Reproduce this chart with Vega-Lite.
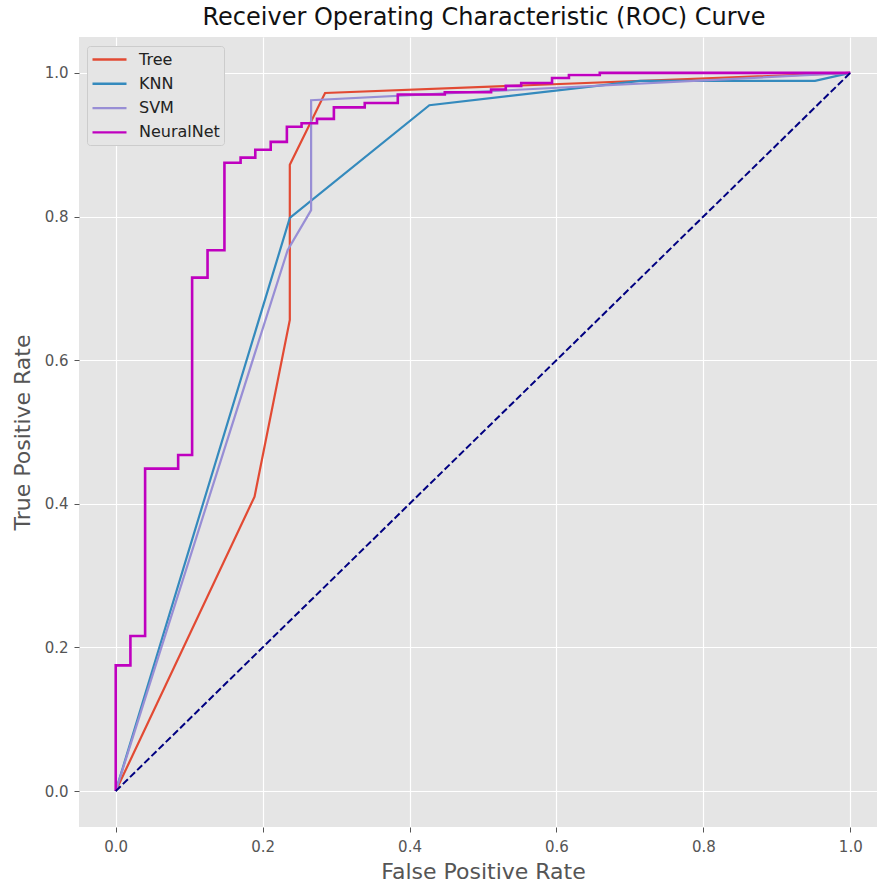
{
  "$schema": "https://vega.github.io/schema/vega-lite/v6.json",
  "autosize": "none",
  "width": 798,
  "height": 790,
  "padding": {"left": 79, "top": 37, "right": 0, "bottom": 56},
  "background": "white",
  "title": {"text": "Receiver Operating Characteristic (ROC) Curve", "fontSize": 24, "font": "DejaVu Sans", "fontWeight": "normal", "color": "#111111", "anchor": "middle", "offset": 7, "frame": "group", "dx": 6},
  "datasets": {
    "roc": [
      {"series": "Tree", "fpr": 0, "tpr": 0},
      {"series": "Tree", "fpr": 0.189, "tpr": 0.41},
      {"series": "Tree", "fpr": 0.237, "tpr": 0.656},
      {"series": "Tree", "fpr": 0.237, "tpr": 0.872},
      {"series": "Tree", "fpr": 0.285, "tpr": 0.972},
      {"series": "Tree", "fpr": 1, "tpr": 1},
      {"series": "KNN", "fpr": 0, "tpr": 0},
      {"series": "KNN", "fpr": 0.237, "tpr": 0.798},
      {"series": "KNN", "fpr": 0.427, "tpr": 0.955},
      {"series": "KNN", "fpr": 0.714, "tpr": 0.989},
      {"series": "KNN", "fpr": 0.952, "tpr": 0.989},
      {"series": "KNN", "fpr": 1, "tpr": 1},
      {"series": "SVM", "fpr": 0, "tpr": 0},
      {"series": "SVM", "fpr": 0.234, "tpr": 0.753},
      {"series": "SVM", "fpr": 0.266, "tpr": 0.809},
      {"series": "SVM", "fpr": 0.266, "tpr": 0.962},
      {"series": "SVM", "fpr": 1, "tpr": 1},
      {"series": "NeuralNet", "fpr": 0, "tpr": 0},
      {"series": "NeuralNet", "fpr": 0, "tpr": 0.175},
      {"series": "NeuralNet", "fpr": 0.02, "tpr": 0.175},
      {"series": "NeuralNet", "fpr": 0.02, "tpr": 0.216},
      {"series": "NeuralNet", "fpr": 0.04, "tpr": 0.216},
      {"series": "NeuralNet", "fpr": 0.04, "tpr": 0.449},
      {"series": "NeuralNet", "fpr": 0.085, "tpr": 0.449},
      {"series": "NeuralNet", "fpr": 0.085, "tpr": 0.468},
      {"series": "NeuralNet", "fpr": 0.104, "tpr": 0.468},
      {"series": "NeuralNet", "fpr": 0.104, "tpr": 0.715},
      {"series": "NeuralNet", "fpr": 0.125, "tpr": 0.715},
      {"series": "NeuralNet", "fpr": 0.125, "tpr": 0.753},
      {"series": "NeuralNet", "fpr": 0.148, "tpr": 0.753},
      {"series": "NeuralNet", "fpr": 0.148, "tpr": 0.875},
      {"series": "NeuralNet", "fpr": 0.17, "tpr": 0.875},
      {"series": "NeuralNet", "fpr": 0.17, "tpr": 0.882},
      {"series": "NeuralNet", "fpr": 0.19, "tpr": 0.882},
      {"series": "NeuralNet", "fpr": 0.19, "tpr": 0.893},
      {"series": "NeuralNet", "fpr": 0.211, "tpr": 0.893},
      {"series": "NeuralNet", "fpr": 0.211, "tpr": 0.904},
      {"series": "NeuralNet", "fpr": 0.233, "tpr": 0.904},
      {"series": "NeuralNet", "fpr": 0.233, "tpr": 0.925},
      {"series": "NeuralNet", "fpr": 0.253, "tpr": 0.925},
      {"series": "NeuralNet", "fpr": 0.253, "tpr": 0.93},
      {"series": "NeuralNet", "fpr": 0.274, "tpr": 0.93},
      {"series": "NeuralNet", "fpr": 0.274, "tpr": 0.936},
      {"series": "NeuralNet", "fpr": 0.297, "tpr": 0.936},
      {"series": "NeuralNet", "fpr": 0.297, "tpr": 0.952},
      {"series": "NeuralNet", "fpr": 0.339, "tpr": 0.952},
      {"series": "NeuralNet", "fpr": 0.339, "tpr": 0.958},
      {"series": "NeuralNet", "fpr": 0.384, "tpr": 0.958},
      {"series": "NeuralNet", "fpr": 0.384, "tpr": 0.97},
      {"series": "NeuralNet", "fpr": 0.448, "tpr": 0.97},
      {"series": "NeuralNet", "fpr": 0.448, "tpr": 0.973},
      {"series": "NeuralNet", "fpr": 0.511, "tpr": 0.973},
      {"series": "NeuralNet", "fpr": 0.511, "tpr": 0.977},
      {"series": "NeuralNet", "fpr": 0.531, "tpr": 0.977},
      {"series": "NeuralNet", "fpr": 0.531, "tpr": 0.982},
      {"series": "NeuralNet", "fpr": 0.552, "tpr": 0.982},
      {"series": "NeuralNet", "fpr": 0.552, "tpr": 0.986},
      {"series": "NeuralNet", "fpr": 0.594, "tpr": 0.986},
      {"series": "NeuralNet", "fpr": 0.594, "tpr": 0.993},
      {"series": "NeuralNet", "fpr": 0.617, "tpr": 0.993},
      {"series": "NeuralNet", "fpr": 0.617, "tpr": 0.997},
      {"series": "NeuralNet", "fpr": 0.659, "tpr": 0.997},
      {"series": "NeuralNet", "fpr": 0.659, "tpr": 1},
      {"series": "NeuralNet", "fpr": 1, "tpr": 1}
    ],
    "diag": [
      {"fpr": 0, "tpr": 0},
      {"fpr": 1, "tpr": 1}
    ]
  },
  "encoding": {
    "x": {"field": "fpr", "type": "quantitative", "scale": {"domain": [-0.05, 1.0364], "nice": false, "zero": false},
      "axis": {"values": [0, 0.2, 0.4, 0.6, 0.8, 1.0], "format": ".1f", "title": "False Positive Rate", "titleX": 404, "titlePadding": 7, "labelPadding": 7}},
    "y": {"field": "tpr", "type": "quantitative", "scale": {"domain": [-0.05, 1.05], "nice": false, "zero": false},
      "axis": {"values": [0, 0.2, 0.4, 0.6, 0.8, 1.0], "format": ".1f", "title": "True Positive Rate", "titlePadding": 10, "labelPadding": 6}}
  },
  "layer": [
    {
      "data": {"name": "roc"},
      "transform": [{"filter": "datum.series !== 'NeuralNet'"}],
      "mark": {"type": "line", "strokeWidth": 2.2, "clip": false},
      "encoding": {
        "color": {"field": "series", "type": "nominal",
          "scale": {"domain": ["Tree", "KNN", "SVM", "NeuralNet"], "range": ["#E24A33", "#348ABD", "#988ED5", "#BF00BF"]},
          "legend": {"orient": "none", "legendX": 8, "legendY": 9, "title": null, "symbolType": "M-2.125,0L2.125,0", "symbolSize": 256, "symbolStrokeWidth": 2.4, "symbolOffset": 9, "labelFontSize": 16, "labelFont": "DejaVu Sans", "labelColor": "#222222", "fillColor": "#E5E5E5", "strokeColor": "#CCCCCC", "padding": 4, "rowPadding": 6.3, "labelOffset": 20, "cornerRadius": 3}},
        "order": {"value": null}
      }
    },
    {
      "data": {"name": "roc"},
      "transform": [{"filter": "datum.series === 'NeuralNet'"}],
      "mark": {"type": "line", "strokeWidth": 2.6, "clip": false},
      "encoding": {
        "color": {"field": "series", "type": "nominal"},
        "order": {"value": null}
      }
    },
    {
      "data": {"name": "diag"},
      "mark": {"type": "line", "strokeWidth": 2, "strokeDash": [7, 3], "color": "#000080"},
      "encoding": {}
    }
  ],
  "config": {
    "view": {"fill": "#E5E5E5", "stroke": null},
    "axis": {"grid": true, "gridColor": "#FFFFFF", "gridWidth": 1.2, "domain": false, "tickColor": "#555555", "tickSize": 5, "labelColor": "#555555", "labelFontSize": 15, "labelFont": "DejaVu Sans", "titleFont": "DejaVu Sans", "titleFontSize": 22, "titleColor": "#555555", "titleFontWeight": "normal"}
  }
}
